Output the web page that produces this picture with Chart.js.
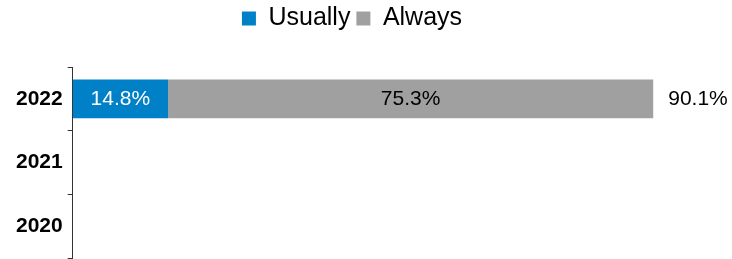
<!DOCTYPE html>
<html>
<head>
<meta charset="utf-8">
<script src="https://cdn.jsdelivr.net/npm/chart.js@4/dist/chart.umd.min.js"></script>
<style>
  html, body { margin: 0; padding: 0; background: #fff; overflow: hidden; height: 259px; }
  #wrap { width: 732px; height: 276px; }
</style>
</head>
<body>
<div id="wrap"><canvas id="chart"></canvas></div>
<script>
// chart data
const years = ["2022", "2021", "2020"];
const usually = [14.8, null, null];
const always = [75.3, null, null];
const seriesNames = ["Usually", "Always"];

const FONT = "'Liberation Sans', Arial, sans-serif";

// extra space under the legend, and nudge it a little to the left
const legendTweak = {
  id: "legendTweak",
  beforeInit(chart) {
    const legend = chart.legend;
    const fit = legend.fit;
    legend.fit = function () {
      fit.call(this);
      this.height += 26;
    };
    const draw = legend._draw;
    legend._draw = function () {
      this.ctx.save();
      this.ctx.translate(-12, 0);
      draw.call(this);
      this.ctx.restore();
    };
  },
};

// draws the value inside each segment and the total after the bar
const valueLabels = {
  id: "valueLabels",
  afterDatasetsDraw(chart) {
    const { ctx } = chart;
    ctx.save();
    ctx.font = "21px " + FONT;
    ctx.textBaseline = "middle";
    ctx.textAlign = "center";
    chart.data.datasets.forEach((ds, di) => {
      const meta = chart.getDatasetMeta(di);
      meta.data.forEach((bar, i) => {
        const v = ds.data[i];
        if (v == null) return;
        ctx.fillStyle = di === 0 ? "#ffffff" : "#000000";
        ctx.fillText(v.toFixed(1) + "%", (bar.base + bar.x) / 2, bar.y);
      });
    });
    const last = chart.getDatasetMeta(chart.data.datasets.length - 1);
    last.data.forEach((bar, i) => {
      if (always[i] == null) return;
      const total = usually[i] + always[i];
      ctx.fillStyle = "#000000";
      ctx.textAlign = "left";
      ctx.fillText(total.toFixed(1) + "%", bar.x + 15, bar.y);
    });
    ctx.restore();
  },
};

new Chart(document.getElementById("chart"), {
  type: "bar",
  data: {
    labels: years,
    datasets: [
      {
        label: seriesNames[0],
        data: usually,
        backgroundColor: "#0080c6",
        barPercentage: 0.61,
        categoryPercentage: 1,
      },
      {
        label: seriesNames[1],
        data: always,
        backgroundColor: "#a0a0a0",
        barPercentage: 0.61,
        categoryPercentage: 1,
      },
    ],
  },
  plugins: [legendTweak, valueLabels],
  options: {
    indexAxis: "y",
    responsive: true,
    maintainAspectRatio: false,
    animation: false,
    layout: { padding: { top: 0, right: 15, bottom: 0, left: 11 } },
    plugins: {
      tooltip: { enabled: false },
      legend: {
        position: "top",
        labels: {
          boxWidth: 14,
          boxHeight: 14,
          padding: 6,
          color: "#000",
          font: { family: FONT, size: 25 },
        },
      },
    },
    scales: {
      x: {
        stacked: true,
        display: false,
        min: 0,
        max: 100,
      },
      y: {
        stacked: true,
        border: { display: true, color: "#333", width: 1 },
        grid: {
          display: true,
          drawOnChartArea: false,
          tickLength: 5,
          tickColor: "#333",
        },
        ticks: {
          color: "#000",
          padding: 5,
          font: { family: FONT, size: 21, weight: "bold" },
        },
      },
    },
  },
});
</script>
</body>
</html>
